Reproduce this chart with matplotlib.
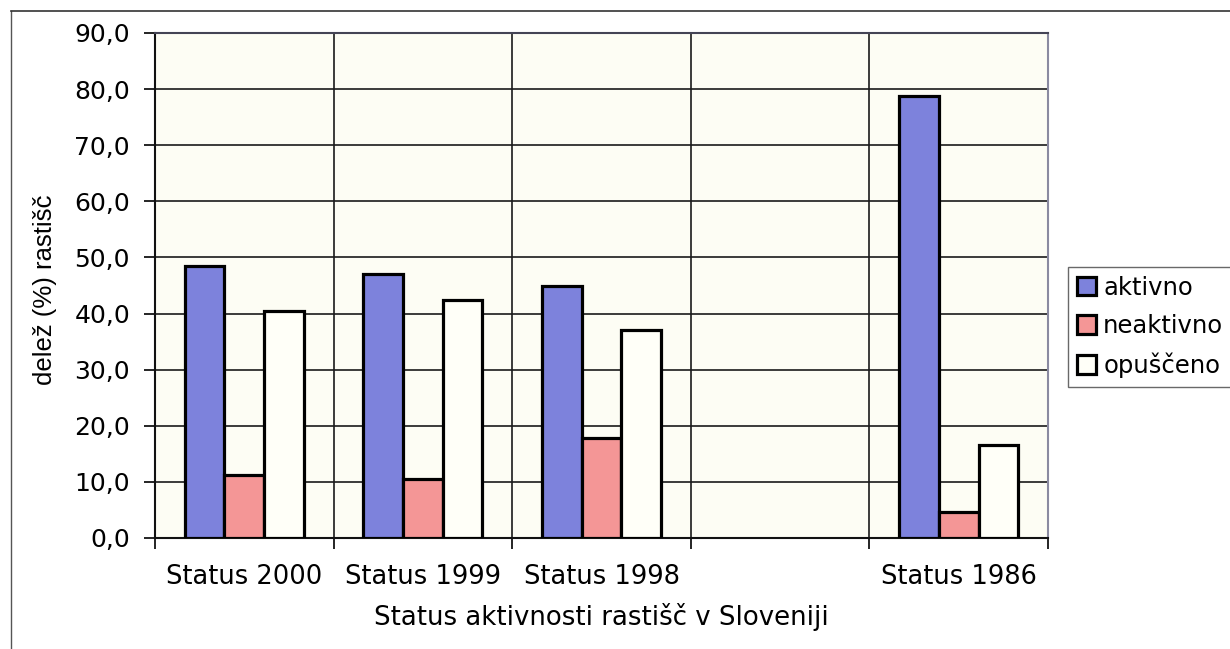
import numpy as np
import matplotlib
matplotlib.use("Agg")
import matplotlib.pyplot as plt
from matplotlib.lines import Line2D
from matplotlib.ticker import FuncFormatter

# --- Data ----------------------------------------------------------------
CATEGORIES = ["Status 2000", "Status 1999", "Status 1998", "", "Status 1986"]
SERIES = ["aktivno", "neaktivno", "opuščeno"]
AKTIVNO = [48.4, 47.0, 44.9, np.nan, 78.8]
NEAKTIVNO = [11.2, 10.5, 17.8, np.nan, 4.6]
OPUSCENO = [40.4, 42.4, 37.1, np.nan, 16.6]
Y_TICKS = np.arange(0, 91, 10)

COLOURS = ["#7d82dc", "#f49696", "#fffff8"]
PLOT_BG = "#fdfdf4"

W, H = 1230, 649
fig = plt.figure(figsize=(W / 100, H / 100), dpi=100)
ax = fig.add_axes([155 / W, 1 - 538 / H, (1048 - 155) / W, (538 - 33) / H])
ax.set_facecolor(PLOT_BG)

x = np.arange(len(CATEGORIES))
bw = 0.222
for i, (vals, col, name) in enumerate(zip([AKTIVNO, NEAKTIVNO, OPUSCENO], COLOURS, SERIES)):
    ax.bar(x + (i - 1) * bw, vals, width=bw, color=col, edgecolor="black",
           linewidth=2.3, label=name, zorder=3)

ax.set_xlim(-0.5, len(CATEGORIES) - 0.5)
ax.set_ylim(0, 90)

# horizontal grid at every 10, vertical grid at category borders
ax.set_yticks(Y_TICKS)
ax.yaxis.set_major_formatter(FuncFormatter(lambda v, _: f"{v:.1f}".replace(".", ",")))
ax.grid(axis="y", color="#1a1a1a", linewidth=1.2, zorder=1)
borders = np.arange(-0.5, len(CATEGORIES), 1.0)
for b in borders[1:-1]:
    ax.axvline(b, color="#1a1a1a", linewidth=1.2, zorder=1)

ax.set_xticks(borders)
ax.set_xticklabels([])
ax.set_xticks(x, minor=True)
ax.set_xticklabels(CATEGORIES, minor=True, fontsize=18.5, family="DejaVu Sans")
ax.tick_params(axis="x", which="minor", length=0, pad=19)
ax.tick_params(axis="x", which="major", length=8, width=1.2, direction="out")
ax.tick_params(axis="y", length=8, width=1.2, direction="out", pad=10, labelsize=18)

for side in ["left", "bottom"]:
    ax.spines[side].set_color("#111111")
    ax.spines[side].set_linewidth(1.5)
ax.spines["top"].set_color("#444455")
ax.spines["top"].set_linewidth(1.5)
ax.spines["right"].set_color("#8a8aa0")
ax.spines["right"].set_linewidth(1.5)

fig.text(601 / W, 1 - 617 / H, "Status aktivnosti rastišč v Sloveniji",
         ha="center", va="center", fontsize=18.7, family="DejaVu Sans")
fig.text(45 / W, 1 - 290 / H, "delež (%) rastišč", rotation=90,
         ha="center", va="center", fontsize=18.5, family="Liberation Sans")

leg = fig.legend(loc="upper left", bbox_to_anchor=(1068 / W, 1 - 267 / H),
                 bbox_transform=fig.transFigure, fontsize=17.5,
                 frameon=True, fancybox=False, borderaxespad=0,
                 borderpad=0.35, handlelength=0.8, handleheight=0.8,
                 handletextpad=0.3, labelspacing=0.6)
leg.get_frame().set_edgecolor("#444444")
leg.get_frame().set_linewidth(1.0)
for h in leg.legend_handles:
    h.set_linewidth(2.3)

# outer chart frame (only top and left edges fall inside the picture)
fig.add_artist(Line2D([11 / W, 11 / W], [0, 1 - 11 / H], transform=fig.transFigure,
                      color="#555555", linewidth=1.0))
fig.add_artist(Line2D([11 / W, 1], [1 - 11 / H, 1 - 11 / H], transform=fig.transFigure,
                      color="#333333", linewidth=1.2))

fig.savefig("out.png", dpi=100)
